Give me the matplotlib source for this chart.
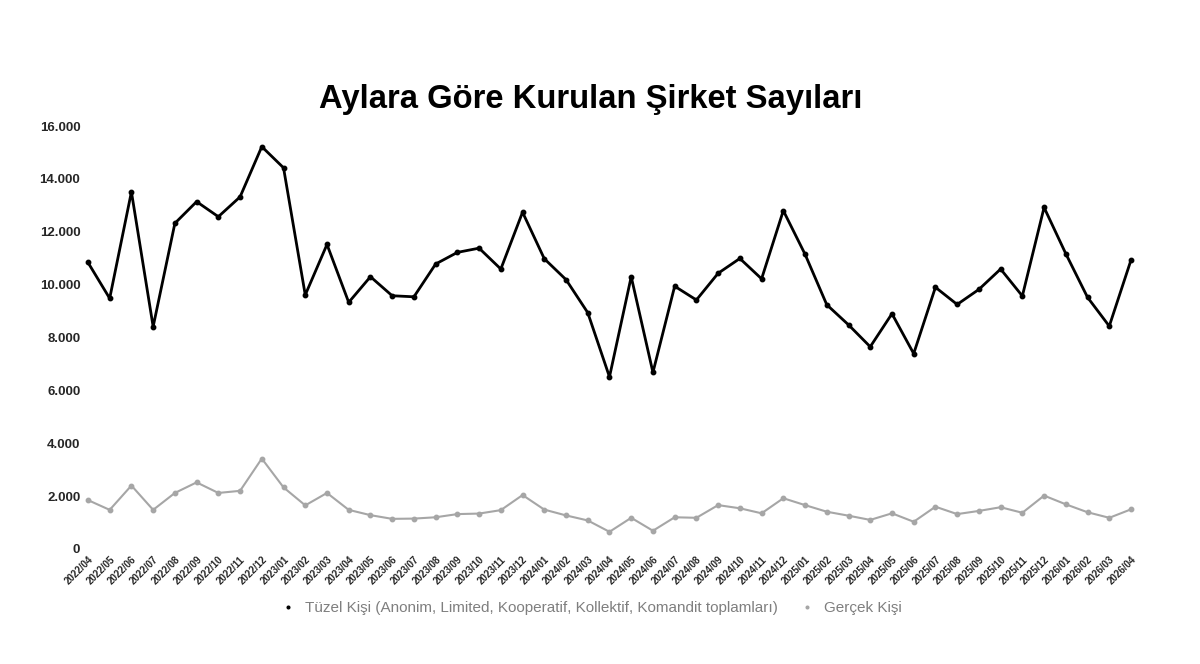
import numpy as np
import matplotlib
matplotlib.use("Agg")
from matplotlib import pyplot as plt
from matplotlib.ticker import FuncFormatter

plt.rcParams['font.family'] = ['Liberation Sans', 'DejaVu Sans']

# Aylar (2022/04 - 2026/04)
aylar = ["2022/04", "2022/05", "2022/06", "2022/07", "2022/08", "2022/09", "2022/10",
         "2022/11", "2022/12", "2023/01", "2023/02", "2023/03", "2023/04", "2023/05",
         "2023/06", "2023/07", "2023/08", "2023/09", "2023/10", "2023/11", "2023/12",
         "2024/01", "2024/02", "2024/03", "2024/04", "2024/05", "2024/06", "2024/07",
         "2024/08", "2024/09", "2024/10", "2024/11", "2024/12", "2025/01", "2025/02",
         "2025/03", "2025/04", "2025/05", "2025/06", "2025/07", "2025/08", "2025/09",
         "2025/10", "2025/11", "2025/12", "2026/01", "2026/02", "2026/03", "2026/04"]

tuzel = [10840, 9480, 13510, 8410, 12320, 13140, 12570, 13320, 15220, 14420,
         9610, 11520, 9330, 10300, 9580, 9540, 10780, 11220, 11380, 10590,
         12740, 10980, 10190, 8940, 6510, 10300, 6680, 9940, 9420, 10430,
         10990, 10220, 12800, 11150, 9240, 8480, 7650, 8900, 7390, 9900,
         9250, 9820, 10590, 9570, 12920, 11170, 9520, 8430, 10930]

gercek = [1850, 1480, 2400, 1480, 2120, 2520, 2120, 2200, 3420, 2330,
          1650, 2120, 1480, 1280, 1140, 1150, 1200, 1320, 1340, 1470,
          2040, 1490, 1270, 1080, 650, 1180, 690, 1200, 1180, 1660,
          1540, 1350, 1920, 1660, 1410, 1260, 1100, 1350, 1030, 1600,
          1320, 1440, 1580, 1370, 2020, 1690, 1390, 1180, 1500]

etiket_tuzel = "Tüzel Kişi (Anonim, Limited, Kooperatif, Kollektif, Komandit toplamları)"
etiket_gercek = "Gerçek Kişi"

x = np.arange(len(aylar))

fig = plt.figure(figsize=(12, 6.64), dpi=100)
ax = fig.add_axes([0.0733, 0.1732, 0.8692, 0.637])

ax.plot(x, tuzel, color="#000000", linewidth=2.0, marker="o", markersize=3.2,
        label=etiket_tuzel, clip_on=False, zorder=3)
ax.plot(x, gercek, color="#A6A6A6", linewidth=1.5, marker="o", markersize=3.2,
        label=etiket_gercek, clip_on=False, zorder=2)

ax.set_xlim(0, len(aylar) - 1)
ax.set_ylim(0, 16000)
ax.set_yticks(np.arange(0, 16001, 2000))
ax.yaxis.set_major_formatter(FuncFormatter(lambda v, p: f"{int(v):,}".replace(",", ".")))
ax.set_xticks(x)
ax.set_xticklabels(aylar, rotation=45, ha="right", rotation_mode="anchor",
                   fontsize=7, fontweight="bold", color="#262626")
for lbl in ax.get_yticklabels():
    lbl.set_fontsize(9.5)
    lbl.set_fontweight("bold")
    lbl.set_color("#262626")
ax.tick_params(axis="y", length=0, pad=5.5)
ax.tick_params(axis="x", length=0, pad=4)

for s in ax.spines.values():
    s.set_visible(False)

fig.text(0.492, 0.85, "Aylara Göre Kurulan Şirket Sayıları", ha="center", va="center",
         fontsize=23.6, fontweight="bold", color="#000000")

leg = fig.legend(handles=ax.get_lines(), loc="center", bbox_to_anchor=(0.494, 0.084),
                 ncol=2, frameon=False, fontsize=11, handlelength=0.6,
                 columnspacing=1.6, handletextpad=0.8, markerscale=0.6)
for h in leg.get_lines():
    h.set_linestyle("none")
for t in leg.get_texts():
    t.set_color("#7F7F7F")

fig.savefig("out.png", dpi=100)
